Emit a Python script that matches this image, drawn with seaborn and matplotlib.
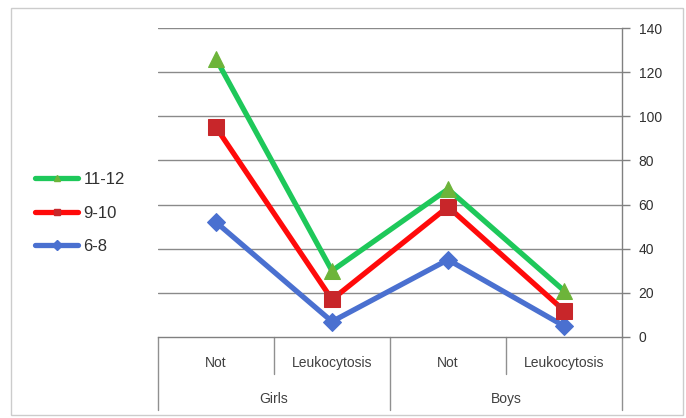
import numpy as np
import pandas as pd
import matplotlib
matplotlib.use("Agg")
import matplotlib.pyplot as plt
import matplotlib.transforms as mtransforms
from matplotlib.lines import Line2D
from matplotlib.patches import Rectangle
import seaborn as sns

# ---- data ----
categories = ["Not", "Leukocytosis", "Not", "Leukocytosis"]
groups = ["Girls", "Boys"]
series_names = ["6-8", "9-10", "11-12"]
values_6_8 = [52, 7, 35, 5]
values_9_10 = [95, 17, 59, 12]
values_11_12 = [126, 30, 67, 21]
y_ticks = [0, 20, 40, 60, 80, 100, 120, 140]

series_values = {"6-8": values_6_8, "9-10": values_9_10, "11-12": values_11_12}
pos = list(range(len(categories)))
rows = []
for name in series_names:
    for i, v in zip(pos, series_values[name]):
        rows.append({"pos": i, "value": v, "series": name})
df = pd.DataFrame(rows)

line_colors = {"6-8": "#4A70D0", "9-10": "#FF0A0A", "11-12": "#1EC85A"}
marker_face = {"6-8": "#4A70D0", "9-10": "#C8262A", "11-12": "#6DB43A"}
markers = {"6-8": "D", "9-10": "s", "11-12": "^"}
msizes = {"6-8": 9, "9-10": 12, "11-12": 12}

sns.set_theme(style="white")
plt.rcParams["font.family"] = ["Liberation Sans", "DejaVu Sans"]

fig = plt.figure(figsize=(6.86, 4.18), dpi=100)
ax = fig.add_axes([158 / 686, 1 - 337 / 418, (622 - 158) / 686, (337 - 28) / 418])

for name in series_names:
    sub = df[df["series"] == name]
    sns.lineplot(data=sub, x="pos", y="value", ax=ax, color=line_colors[name],
                 linewidth=3.8, marker=markers[name], markersize=msizes[name],
                 markerfacecolor=marker_face[name], markeredgecolor=marker_face[name],
                 legend=False, zorder=3)

ax.set_xlim(-0.5, len(categories) - 0.5)
ax.set_ylim(0, 140)
ax.set_yticks(y_ticks)
ax.yaxis.tick_right()
ax.tick_params(axis="y", direction="out", length=6, width=1, color="#808080",
               labelsize=10, labelcolor="#303030", pad=6, right=True, left=False)
ax.set_xticks([])
ax.set_xlabel("")
ax.set_ylabel("")
for yv in y_ticks[1:]:
    ax.axhline(yv, color="#8a8a8a", linewidth=1, zorder=1)
for s in ["top", "left"]:
    ax.spines[s].set_visible(False)
ax.spines["right"].set_color("#808080")
ax.spines["bottom"].set_color("#808080")
ax.spines["right"].set_linewidth(1)
ax.spines["bottom"].set_linewidth(1)

# category axis labels and dividers
trans = mtransforms.blended_transform_factory(ax.transData, ax.transAxes)
ax_h = 337 - 28
y_cat = -(363 - 337) / ax_h
y_grp = -(399 - 337) / ax_h
y_short = -(374 - 337) / ax_h
y_long = -(410 - 337) / ax_h
for i, c in enumerate(categories):
    ax.text(i, y_cat, c, transform=trans, ha="center", va="center",
            fontsize=10, color="#404040")
n_per = len(categories) // len(groups)
for g, name in enumerate(groups):
    center = g * n_per + (n_per - 1) / 2
    ax.text(center, y_grp, name, transform=trans, ha="center", va="center",
            fontsize=10, color="#404040")
for b in np.arange(-0.5, len(categories), 1.0):
    is_group = (b + 0.5) % n_per == 0
    ax.plot([b, b], [0, y_long if is_group else y_short], transform=trans,
            color="#909090", linewidth=1, clip_on=False)

# legend
handles = []
for name in reversed(series_names):
    handles.append(Line2D([0], [0], color=line_colors[name], linewidth=3.8,
                          marker=markers[name], markersize=5,
                          markerfacecolor=marker_face[name],
                          markeredgecolor=marker_face[name]))
fig.legend(handles, list(reversed(series_names)), loc="center left",
           bbox_to_anchor=(20 / 686, 1 - 213 / 418), frameon=False,
           fontsize=12, handlelength=2.6, handletextpad=0.3, labelspacing=1.1,
           labelcolor="#303030")

# outer border
fig.patches.append(Rectangle((11 / 686, 3 / 418), 672 / 686, 407 / 418,
                             transform=fig.transFigure, fill=False,
                             edgecolor="#cccccc", linewidth=1))

fig.savefig("out.png", dpi=100)
